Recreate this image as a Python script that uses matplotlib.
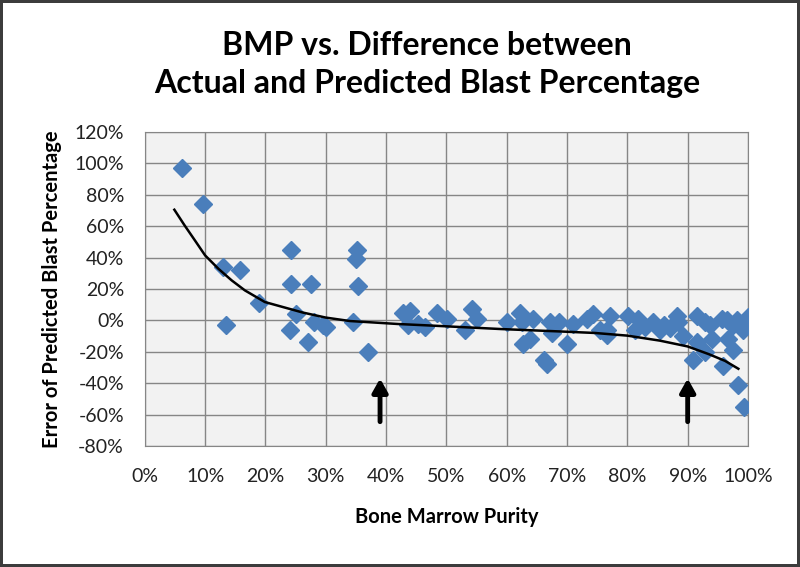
import numpy as np
import matplotlib
import matplotlib.pyplot as plt
from matplotlib.ticker import FuncFormatter

matplotlib.rcParams['font.family'] = ['Lato', 'DejaVu Sans']
matplotlib.rcParams['axes.unicode_minus'] = False

# bone marrow purity (fraction) and error of predicted blast percentage (fraction)
bmp = [0.061, 0.096, 0.130, 0.135, 0.158, 0.190, 0.243, 0.243, 0.240, 0.250,
       0.275, 0.270, 0.280, 0.295, 0.300, 0.352, 0.350, 0.353, 0.345, 0.370,
       0.428, 0.439, 0.436, 0.453, 0.464, 0.484, 0.501, 0.531, 0.542, 0.551,
       0.600, 0.622, 0.625, 0.643, 0.627, 0.638, 0.662, 0.667, 0.672, 0.675,
       0.687, 0.700, 0.710, 0.733, 0.743, 0.755,
       0.771, 0.766, 0.766, 0.801, 0.818, 0.813, 0.842, 0.854, 0.871, 0.882,
       0.884, 0.892, 0.915, 0.915, 0.909, 0.929, 0.929, 0.937, 0.940, 0.957,
       0.959, 0.967, 0.975, 0.982, 0.990, 0.992, 1.000, 0.983, 0.993,
       0.965, 0.975, 0.995, 0.860, 0.830]
err = [0.97, 0.74, 0.34, -0.03, 0.32, 0.11, 0.45, 0.23, -0.06, 0.04,
       0.23, -0.14, -0.01, -0.03, -0.04, 0.45, 0.39, 0.22, -0.01, -0.20,
       0.05, 0.06, -0.03, -0.02, -0.04, 0.05, 0.01, -0.06, 0.07, 0.01,
       -0.01, 0.05, -0.01, 0.01, -0.15, -0.12, -0.25, -0.28, -0.01, -0.08,
       -0.01, -0.15, -0.02, 0.01, 0.04, -0.06,
       0.03, -0.06, -0.09, 0.03, 0.01, -0.06, -0.01, -0.06, -0.05, 0.03,
       -0.01, -0.10, 0.03, -0.14, -0.25, -0.01, -0.20, -0.03, -0.12, 0.01,
       -0.29, -0.12, -0.19, 0.00, -0.02, -0.06, 0.02, -0.41, -0.55,
       0.00, -0.03, -0.03, -0.03, -0.04]

# trendline
trend_x = [0.049, 0.066, 0.083, 0.100, 0.122, 0.144, 0.166, 0.199, 0.262, 0.30,
           0.34, 0.42, 0.47, 0.59, 0.692, 0.746, 0.80, 0.854, 0.90, 0.935,
           0.962, 0.984]
trend_y = [0.705, 0.605, 0.51, 0.414, 0.329, 0.255, 0.191, 0.117, 0.050, 0.018,
           -0.004, -0.023, -0.032, -0.055, -0.071, -0.080, -0.097, -0.129, -0.166, -0.215,
           -0.258, -0.308]

# arrows marking the purity cut-offs
arrow_x = [0.39, 0.90]

fig = plt.figure(figsize=(8, 5.67), dpi=100, edgecolor='#3c3c3c', linewidth=4)
ax = fig.add_axes([0.181, 0.2134, 0.754, 0.5538])
ax.set_facecolor('#f2f2f2')

ax.plot(bmp, err, linestyle='none', marker='D', markersize=9.5, color='#4a7ebb', zorder=3)
ax.plot(trend_x, trend_y, color='black', linewidth=1.8, zorder=4, solid_joinstyle='round')

for ax_x in arrow_x:
    ax.annotate('', xy=(ax_x, -0.37), xytext=(ax_x, -0.645),
                arrowprops=dict(arrowstyle='-|>,head_length=0.8,head_width=0.45',
                                color='black', lw=3.5, shrinkA=0, shrinkB=0),
                zorder=5)

ax.set_xlim(0, 1.0)
ax.set_ylim(-0.8, 1.2)
ax.set_xticks(np.arange(0, 1.01, 0.1))
ax.set_yticks(np.arange(-0.8, 1.21, 0.2))
pct = FuncFormatter(lambda v, p: '%d%%' % int(round(v * 100)))
ax.xaxis.set_major_formatter(pct)
ax.yaxis.set_major_formatter(pct)
ax.grid(True, color='#868686', linewidth=1.0)
ax.set_axisbelow(True)
for s in ax.spines.values():
    s.set_color('#868686')
ax.tick_params(length=0, labelsize=14, labelcolor='#222222', pad=15)
ax.tick_params(axis='x', pad=16)

ax.set_xlabel('Bone Marrow Purity', fontsize=14.5, fontweight='bold', labelpad=16)
ax.set_ylabel('Error of Predicted Blast Percentage', fontsize=14.5, fontweight='bold', labelpad=9)
ax.set_title('BMP vs. Difference between\nActual and Predicted Blast Percentage',
             fontsize=23, fontweight='bold', linespacing=1.38, pad=28, x=0.468)

plt.savefig('out.png', dpi=100)
